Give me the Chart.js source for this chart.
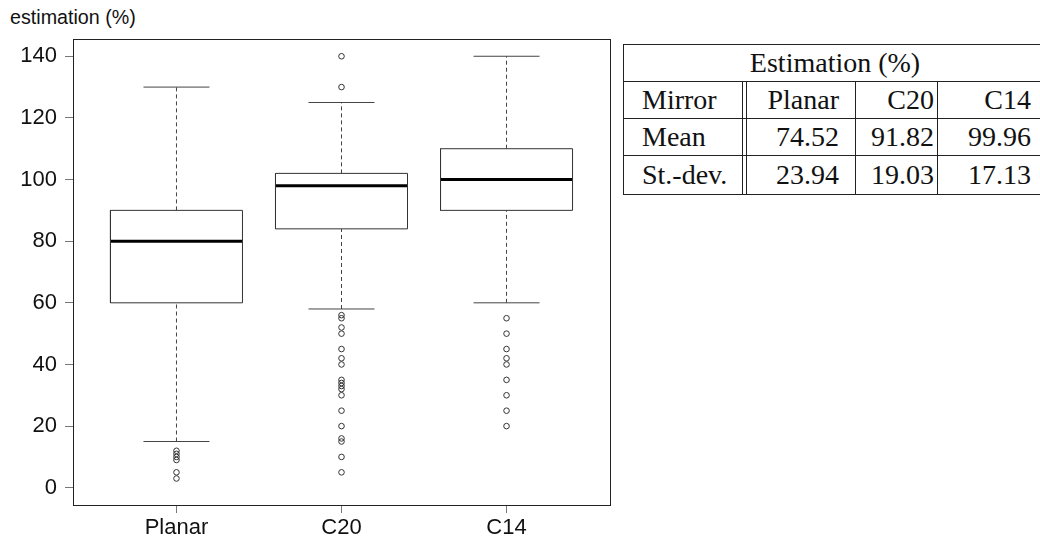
<!DOCTYPE html>
<html>
<head>
<meta charset="utf-8">
<script src="https://cdn.jsdelivr.net/npm/chart.js@4.4.1/dist/chart.umd.min.js"></script>
<style>
  html, body { margin: 0; padding: 0; background: #fff; overflow: hidden; }
  body { width: 1040px; height: 541px; position: relative; }
  #yTitle { position: absolute; left: 10px; top: 6px; font: 19.7px "Liberation Sans", Arial, sans-serif; color: #111; }
  #plotWrap { position: absolute; left: 0; top: 0; width: 620px; height: 541px; }
  #statsTable {
    position: absolute; left: 623px; top: 44px;
    width: 424px; table-layout: fixed;
    border-collapse: separate; border-spacing: 0;
    font: 28px "Liberation Serif", "Times New Roman", serif; color: #111;
  }
  #statsTable td { border-bottom: 1px solid #222; padding: 0; height: 36px; line-height: 36px; white-space: nowrap; overflow: hidden; }
  #statsTable tr:first-child td { border-top: 1px solid #222; }
  #statsTable tr:last-child td { height: 38px; }
  #statsTable td.first { border-left: 1px solid #222; border-right: 1px solid #222; padding-left: 18px; text-align: left; }
  #statsTable td.c1 { border-left: 1px solid #222; border-right: 1px solid #222; padding-right: 16px; text-align: right; }
  #statsTable td.c2 { border-right: 1px solid #222; padding-right: 3px; text-align: right; }
  #statsTable td.c3 { border-right: 1px solid #222; padding-right: 15px; text-align: right; }
  #statsTable td.head { border-left: 1px solid #222; border-right: 1px solid #222; text-align: center; }
</style>
</head>
<body>
<div id="yTitle">estimation (%)</div>
<div id="plotWrap"><canvas id="boxChart" width="620" height="541"></canvas></div>
<table id="statsTable">
  <colgroup><col style="width:120px"><col style="width:3px"><col style="width:110px"><col style="width:82px"><col style="width:109px"></colgroup>
  <tbody id="statsBody"></tbody>
</table>
<script>
// groups and box statistics
const categories = ['Planar', 'C20', 'C14'];
const whiskerLow = [15, 58, 60];
const q1 = [60, 84, 90];
const median = [80, 98, 100];
const q3 = [90, 102, 110];
const whiskerHigh = [130, 125, 140];
const outliers = [
  [12, 11, 10, 9, 5, 3],
  [140, 130, 56, 55, 52, 50, 45, 42, 40, 35, 34, 33, 32, 30, 25, 20, 16, 15, 10, 5],
  [55, 50, 45, 42, 40, 35, 30, 25, 20]
];
const yTicks = [0, 20, 40, 60, 80, 100, 120, 140];

// summary table
const tableTitle = 'Estimation (%)';
const rowLabels = ['Mirror', 'Mean', 'St.-dev.'];
const means = ['74.52', '91.82', '99.96'];
const stdevs = ['23.94', '19.03', '17.13'];

const BOX_HALF = 0.4;
const CAP_HALF = 0.2;

function seg(points, extra) {
  return Object.assign({
    data: points,
    showLine: true,
    pointRadius: 0,
    pointHoverRadius: 0,
    borderColor: '#444',
    borderWidth: 1,
    backgroundColor: 'transparent',
    fill: false
  }, extra || {});
}

const datasets = [];
categories.forEach((c, k) => {
  const i = k + 1;
  // whiskers (dashed) and staples
  datasets.push(seg([{x: i, y: q3[k]}, {x: i, y: whiskerHigh[k]}], {borderDash: [4, 3]}));
  datasets.push(seg([{x: i, y: whiskerLow[k]}, {x: i, y: q1[k]}], {borderDash: [4, 3]}));
  datasets.push(seg([{x: i - CAP_HALF, y: whiskerHigh[k]}, {x: i + CAP_HALF, y: whiskerHigh[k]}]));
  datasets.push(seg([{x: i - CAP_HALF, y: whiskerLow[k]}, {x: i + CAP_HALF, y: whiskerLow[k]}]));
  // box
  datasets.push(seg([
    {x: i - BOX_HALF, y: q1[k]}, {x: i + BOX_HALF, y: q1[k]},
    {x: i + BOX_HALF, y: q3[k]}, {x: i - BOX_HALF, y: q3[k]},
    {x: i - BOX_HALF, y: q1[k]}
  ], {borderColor: '#333'}));
  // median
  datasets.push(seg([{x: i - BOX_HALF, y: median[k]}, {x: i + BOX_HALF, y: median[k]}],
    {borderColor: '#000', borderWidth: 3, borderCapStyle: 'butt'}));
  // outliers
  datasets.push({
    data: outliers[k].map(v => ({x: i, y: v})),
    showLine: false,
    pointStyle: 'circle',
    pointRadius: 2.8,
    pointHoverRadius: 2.8,
    pointBorderWidth: 1,
    pointBorderColor: '#333',
    pointBackgroundColor: 'rgba(0,0,0,0)'
  });
});

const frame = {
  id: 'frame',
  afterDraw(chart) {
    const a = chart.chartArea;
    const ctx = chart.ctx;
    ctx.save();
    ctx.strokeStyle = '#222';
    ctx.lineWidth = 1;
    ctx.strokeRect(Math.round(a.left) + 0.5, Math.round(a.top) + 0.5,
      Math.round(a.right - a.left), Math.round(a.bottom - a.top));
    ctx.restore();
  }
};

const tickFont = { family: '"Liberation Sans", Arial, sans-serif', size: 22 };

new Chart(document.getElementById('boxChart'), {
  type: 'scatter',
  data: { datasets: datasets },
  options: {
    responsive: false,
    animation: false,
    events: [],
    layout: { padding: { top: 39, right: 10, left: 0, bottom: 0 } },
    plugins: { legend: { display: false }, tooltip: { enabled: false } },
    scales: {
      x: {
        type: 'linear',
        min: 0.373,
        max: 3.627,
        afterBuildTicks: s => { s.ticks = categories.map((c, k) => ({ value: k + 1 })); },
        afterFit: s => { s.height = 36; },
        ticks: {
          callback: v => categories[v - 1] || '',
          color: '#111',
          font: tickFont,
          padding: 2,
          maxRotation: 0
        },
        grid: { drawOnChartArea: false, tickLength: 8, color: '#777' },
        border: { display: false }
      },
      y: {
        min: -5.6,
        max: 145.6,
        afterBuildTicks: s => { s.ticks = yTicks.map(v => ({ value: v })); },
        afterFit: s => { s.width = 73; },
        ticks: { color: '#111', font: tickFont, padding: 8 },
        grid: { drawOnChartArea: false, tickLength: 8, color: '#777' },
        border: { display: false }
      }
    }
  },
  plugins: [frame]
});

// build the summary table
const tbl = document.getElementById('statsBody');
function addRow(cells) {
  const tr = document.createElement('tr');
  cells.forEach(([cls, text, span]) => {
    const td = document.createElement('td');
    td.className = cls;
    td.textContent = text;
    if (span) td.colSpan = span;
    tr.appendChild(td);
  });
  tbl.appendChild(tr);
}
addRow([['head', tableTitle, 5]]);
addRow([['first', rowLabels[0]], ['gap', ''], ['c1', categories[0]], ['c2', categories[1]], ['c3', categories[2]]]);
addRow([['first', rowLabels[1]], ['gap', ''], ['c1', means[0]], ['c2', means[1]], ['c3', means[2]]]);
addRow([['first', rowLabels[2]], ['gap', ''], ['c1', stdevs[0]], ['c2', stdevs[1]], ['c3', stdevs[2]]]);
</script>
</body>
</html>
